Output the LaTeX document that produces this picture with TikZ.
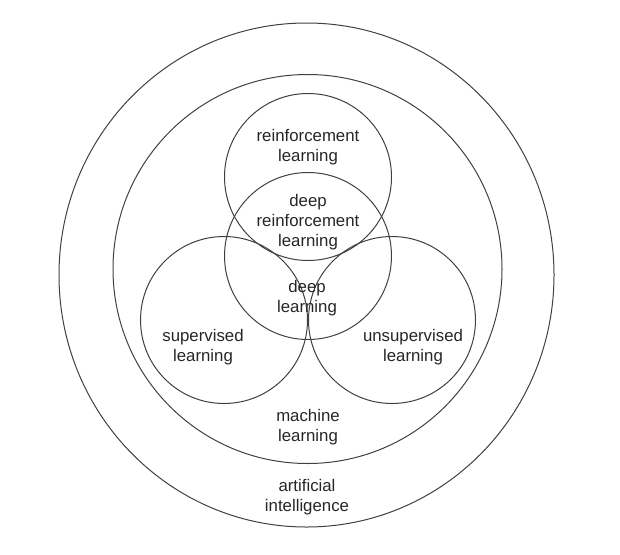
\documentclass[tikz,border=0pt]{standalone}
\usepackage{fontspec}
\setmainfont{Liberation Sans}

\tikzset{
  ring/.style={draw=black!75, line width=1pt},
  lbl/.style={align=center, text=black!85, inner sep=0pt,
    font=\fontsize{16.8}{20}\selectfont},
}

\begin{document}
\begin{tikzpicture}[x=1pt,y=-1pt]
\useasboundingbox (0,0) rectangle (620,554);

\draw[ring] (306.5,275) ellipse [x radius=247.5, y radius=252]; %AI
\draw[ring] (307.5,269) circle [radius=194.5]; %ML

\draw[ring] (308,177) circle [radius=83.5]; %RL
\draw[ring] (308,256) circle [radius=83.5]; %DL
\draw[ring] (224,320) circle [radius=83.5]; %SL
\draw[ring] (392,320) circle [radius=83.5]; %UL

    \node[lbl] (rl) at (308,147) {reinforcement\\learning};
    \node[lbl] (drl) at (308,222) {deep\\reinforcement\\learning};
    \node[lbl] (dl) at (307,298) {deep\\learning};
    \node[lbl] (sl) at (203,347) {supervised\\learning};
    \node[lbl] (ul) at (413,347) {unsupervised\\learning};
    \node[lbl] (ml) at (308,427) {machine\\learning};
    \node[lbl] (ai) at (307,497) {artificial\\intelligence};
\end{tikzpicture}
\end{document}
